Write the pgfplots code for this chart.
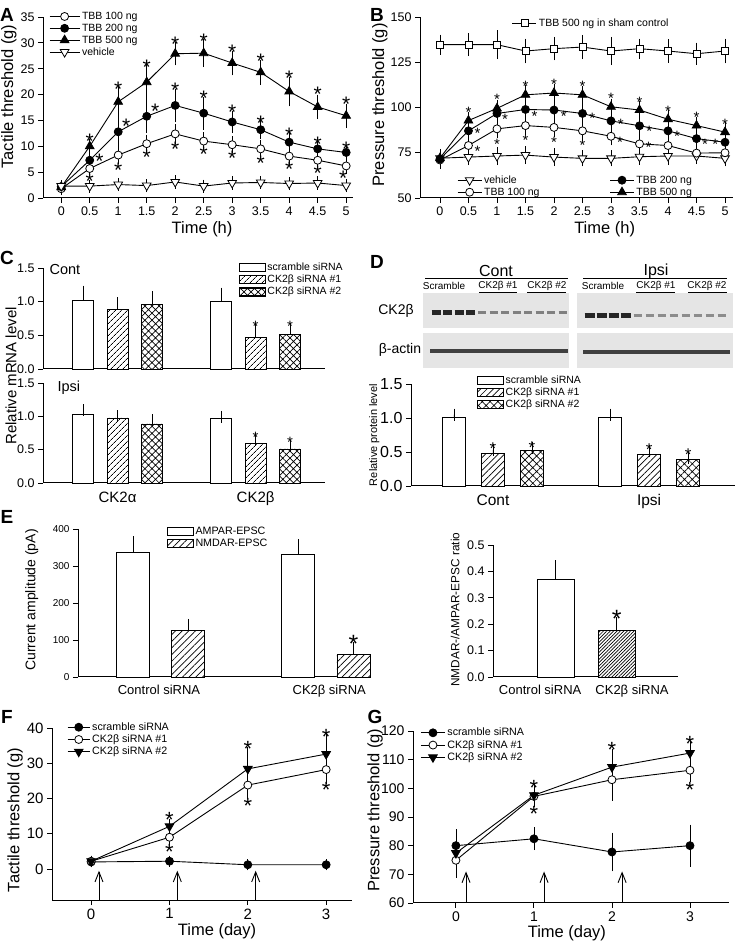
\documentclass[border=0pt]{standalone}
\usepackage{fontspec}
\setmainfont{Liberation Sans}
\usepackage{pgfplots}
\pgfplotsset{compat=1.18}
\usetikzlibrary{patterns.meta,arrows.meta}
\newcommand{\fs}[1]{\fontsize{#1}{#1}\selectfont}

\pgfplotsset{
  base/.style={scale only axis, anchor=south west, axis lines*=left,
    axis line style={-, line width=1pt}, tick align=outside, major tick length=5pt,
    tick style={black, line width=0.9pt}, clip=false,
    /pgf/number format/assume math mode=true, legend cell align=left,
    legend style={draw=none, fill=none, inner sep=1pt, row sep=-1pt}},
  dec/.style={yticklabel style={/pgf/number format/fixed, /pgf/number format/fixed zerofill, /pgf/number format/precision=1}},
  ln/.style={black, line width=0.9pt},
  oc/.style={ln, mark=*, mark size=#1, mark options={fill=white, solid, line width=0.8pt}}, oc/.default=4pt,
  fc/.style={ln, mark=*, mark size=#1, mark options={fill=black, solid, line width=0.8pt}}, fc/.default=4pt,
  ft/.style={ln, mark=triangle*, mark size=#1, mark options={fill=black, solid, line width=0.8pt}}, ft/.default=5pt,
  ot/.style={ln, mark=triangle*, mark size=#1, mark options={fill=white, rotate=180, solid, line width=0.8pt}}, ot/.default=5pt,
  dt/.style={ln, mark=triangle*, mark size=#1, mark options={fill=black, rotate=180, solid, line width=0.8pt}}, dt/.default=5pt,
  os/.style={ln, mark=square*, mark size=3.5pt, mark options={fill=white, solid, line width=0.8pt}},
  eb/.style={error bars/y dir=both, error bars/y explicit, error bars/error bar style={line width=0.8pt, black, solid},
    error bars/error mark options={line width=0.8pt, black, mark size=#1, solid}}, eb/.default=4.5pt,
  ebp/.style={error bars/y dir=plus, error bars/y explicit, error bars/error bar style={line width=0.8pt, black, solid},
    error bars/error mark options={line width=0.8pt, black, mark size=#1, solid}}, ebp/.default=6pt,
  star/.style={only marks, mark=text, text mark={*}, text mark as node=true,
    text mark style={font=\fs{#1}, yshift=-0.2*#1pt, inner sep=0pt}, forget plot},
  lgl/.style={legend image code/.code={\draw[mark repeat=2,mark phase=2,##1] plot coordinates {(0pt,0pt) (#1/2,0pt) (#1,0pt)};}},
  bar/.style={ybar, bar width=#1, bar shift=0pt, draw=black, line width=0.9pt, fill=white,
    legend image code/.code={\draw[##1, line width=0.7pt] (0pt,-4pt) rectangle (26pt,4pt);}},
  hl/.style={pattern={Lines[angle=45, distance=#1, line width=0.7pt]}, preaction={fill=white}},
  hx/.style={pattern={Hatch[angle=45, distance=#1, line width=0.7pt]}, preaction={fill=white}},
}

\begin{document}
\begin{tikzpicture}

% ---------- page-wide layer: letters, blot, free texts ----------
\begin{axis}[at={(0pt,0pt)}, anchor=south west, scale only axis, width=737pt, height=946pt,
  xmin=0, xmax=737, ymin=0, ymax=946, y dir=reverse, hide axis, clip=false]
\addplot[fill=black!10, draw=none] coordinates {(423,293)(569,293)(569,328)(423,328)};
\addplot[fill=black!10, draw=none] coordinates {(577,293)(733,293)(733,328)(577,328)};
\addplot[fill=black!10, draw=none] coordinates {(423,333)(569,333)(569,368)(423,368)};
\addplot[fill=black!10, draw=none] coordinates {(577,333)(733,333)(733,368)(577,368)};
\addplot[line width=5pt, black!85, unbounded coords=jump] coordinates {
  (431.5,312)(440.5,312) (0,nan) (443,312)(452,312) (0,nan) (454.5,312)(463.5,312) (0,nan) (466,312)(475,312)};
\addplot[line width=3pt, black!50, unbounded coords=jump] coordinates {
  (478,312)(486,312) (0,nan) (489.5,312)(497.5,312) (0,nan) (501,312)(509,312) (0,nan) (512.5,312)(520.5,312) (0,nan)
  (524,312)(532,312) (0,nan) (535.5,312)(543.5,312) (0,nan) (547,312)(555,312) (0,nan) (558.5,312)(566.5,312)};
\addplot[line width=5pt, black!85, unbounded coords=jump] coordinates {
  (584.5,315)(594.5,315) (0,nan) (596.5,315)(606.5,315) (0,nan) (608.5,315)(618.5,315) (0,nan) (620.5,315)(630.5,315)};
\addplot[line width=3pt, black!45, unbounded coords=jump] coordinates {
  (633.5,315)(641.5,315) (0,nan) (645.5,315)(653.5,315) (0,nan) (657.5,315)(665.5,315) (0,nan) (669.5,315)(677.5,315) (0,nan)
  (681.5,315)(689.5,315) (0,nan) (693.5,315)(701.5,315) (0,nan) (705.5,315)(713.5,315) (0,nan) (717.5,315)(725.5,315)};
\addplot[line width=4pt, black!75] coordinates {(430,351)(568,351)};
\addplot[line width=4pt, black!75] coordinates {(583,352)(730,352)};
\addplot[line width=0.8pt] coordinates {(425,278)(568,278)};
\addplot[line width=0.8pt] coordinates {(583,278)(727,278)};
\addplot[line width=0.6pt] coordinates {(479,292)(517,292)};
\addplot[line width=0.6pt] coordinates {(527,292)(566,292)};
\addplot[line width=0.6pt] coordinates {(636,292)(675,292)};
\addplot[line width=0.6pt] coordinates {(688,292)(727,292)};
\node[font=\fs{16}] at (axis cs:496,271) {Cont};
\node[font=\fs{16}] at (axis cs:656,271) {Ipsi};
\node[font=\fs{10}] at (axis cs:444,286) {Scramble};
\node[font=\fs{10}] at (axis cs:498,286) {CK2β \#1};
\node[font=\fs{10}] at (axis cs:547,286) {CK2β \#2};
\node[font=\fs{10}] at (axis cs:603,286) {Scramble};
\node[font=\fs{10}] at (axis cs:656,286) {CK2β \#1};
\node[font=\fs{10}] at (axis cs:707,286) {CK2β \#2};
\node[font=\fs{14}] at (axis cs:396,311) {CK2β};
\node[font=\fs{14}] at (axis cs:400,350) {β-actin};
\node[font=\fs{14.5}, anchor=west] at (axis cs:46,270) {Cont};
\node[font=\fs{14.5}, anchor=west] at (axis cs:54,388) {Ipsi};
\node[font=\fs{15}, rotate=90] at (axis cs:11,376) {Relative mRNA level};
\node[font=\bfseries\fs{19}] at (axis cs:7,15) {A};
\node[font=\bfseries\fs{19}] at (axis cs:377,15) {B};
\node[font=\bfseries\fs{19}] at (axis cs:7,258) {C};
\node[font=\bfseries\fs{19}] at (axis cs:377,262) {D};
\node[font=\bfseries\fs{19}] at (axis cs:7,517) {E};
\node[font=\bfseries\fs{19}] at (axis cs:7,717) {F};
\node[font=\bfseries\fs{19}] at (axis cs:375,717) {G};
\end{axis}

% ---------- A ----------
\begin{axis}[base, at={(43pt,748pt)}, width=310pt, height=181pt,
  xmin=-0.32, xmax=5.12, ymin=0, ymax=35,
  xtick={0,0.5,1,1.5,2,2.5,3,3.5,4,4.5,5}, ytick={0,5,10,15,20,25,30,35},
  ticklabel style={font=\fs{12.5}},
  xlabel={Time (h)}, ylabel={Tactile threshold (g)}, label style={font=\fs{16.5}},
  xlabel style={at={(axis description cs:0.513,-0.171)}, anchor=center},
  ylabel style={at={(axis description cs:-0.11,0.56)}, anchor=center},
  lgl=30pt, legend style={at={(0.016,1.045)}, anchor=north west, font=\fs{10.5}}]
\addplot[oc, eb] coordinates {(0,1.8)+-(0,0.4) (0.5,5.7)+-(0,0.9) (1,8.3)+-(0,0.9) (1.5,10.5)+-(0,0.9) (2,12.4)+-(0,1.0)
  (2.5,11.0)+-(0,0.8) (3,10.3)+-(0,0.8) (3.5,9.5)+-(0,0.8) (4,8.1)+-(0,0.8) (4.5,7.3)+-(0,0.8) (5,6.2)+-(0,0.6)};
\addlegendentry{TBB 100 ng}
\addplot[fc, eb] coordinates {(0,2.2)+-(0,0.3) (0.5,7.3)+-(0,0.8) (1,12.8)+-(0,2.4) (1.5,15.8)+-(0,2.4) (2,17.9)+-(0,2.4)
  (2.5,16.4)+-(0,2.3) (3,14.7)+-(0,1.3) (3.5,13.2)+-(0,1.0) (4,10.8)+-(0,1.0) (4.5,9.5)+-(0,0.7) (5,8.8)+-(0,0.6)};
\addlegendentry{TBB 200 ng}
\addplot[ft, eb] coordinates {(0,2.1)+-(0,0.3) (0.5,10.0)+-(0,0.6) (1,18.6)+-(0,2.2) (1.5,22.4)+-(0,2.6) (2,27.9)+-(0,1.4)
  (2.5,28.0)+-(0,1.8) (3,26.1)+-(0,1.5) (3.5,24.3)+-(0,1.6) (4,20.6)+-(0,2.0) (4.5,17.6)+-(0,1.5) (5,15.9)+-(0,1.5)};
\addlegendentry{TBB 500 ng}
\addplot[ot, eb] coordinates {(0,2.3)+-(0,0.3) (0.5,2.3)+-(0,0.4) (1,2.6)+-(0,0.4) (1.5,2.4)+-(0,0.4) (2,3.1)+-(0,0.4)
  (2.5,2.3)+-(0,0.4) (3,2.9)+-(0,0.4) (3.5,3.0)+-(0,0.4) (4,2.8)+-(0,0.4) (4.5,2.9)+-(0,0.4) (5,2.4)+-(0,0.4)};
\addlegendentry{vehicle}
\addplot[star=21] coordinates {(0.5,11.8) (1,21.8) (1.5,26.1) (2,30.5) (2.5,31.1) (3,28.9) (3.5,27.3) (4,23.9) (4.5,20.8) (5,18.9)
  (0.67,7.9) (1.14,14.7) (1.65,17.6) (2,21.6) (2.5,20.0) (3,17.3) (3.5,15.2) (4,13.0) (4.5,11.2) (5,10.2)
  (0.5,4.1) (1,6.2) (1.5,8.6) (2,10.2) (2.5,9.2) (3,8.4) (3.5,7.6) (4,6.3) (4.5,5.5) (4.95,4.6)};
\end{axis}

% ---------- B ----------
\begin{axis}[base, at={(420pt,748pt)}, width=313pt, height=181pt,
  xmin=-0.35, xmax=5.14, ymin=50, ymax=150,
  xtick={0,0.5,1,1.5,2,2.5,3,3.5,4,4.5,5}, ytick={50,75,100,125,150},
  ticklabel style={font=\fs{12.5}},
  xlabel={Time (h)}, ylabel={Pressure threshold (g)}, label style={font=\fs{16.5}},
  xlabel style={at={(axis description cs:0.59,-0.171)}, anchor=center},
  ylabel style={at={(axis description cs:-0.128,0.514)}, anchor=center},
  lgl=24pt, legend columns=2,
  legend style={at={(0.115,-0.01)}, anchor=south west, font=\fs{10.5},
    /tikz/every even column/.append style={column sep=68pt}}]
\addplot[os, eb, forget plot] coordinates {(0,134.7)+-(0,3.1) (0.5,134.7)+-(0,3.9) (1,134.7)+-(0,5.5) (1.5,131.2)+-(0,4.4)
  (2,132.5)+-(0,4) (2.5,133.4)+-(0,4.2) (3,131.2)+-(0,5.3) (3.5,132.5)+-(0,3.1) (4,131.2)+-(0,4) (4.5,129.7)+-(0,3.7) (5,131.2)+-(0,4.4)};
\addplot[ot, eb, forget plot] coordinates {(0,72)+-(0,2) (0.5,72.6)+-(0,2) (1,73.2)+-(0,2.5) (1.5,73.7)+-(0,2.5) (2,72.6)+-(0,2.5)
  (2.5,71.9)+-(0,2) (3,71.9)+-(0,2) (3.5,72.8)+-(0,2) (4,73.2)+-(0,2.5) (4.5,73.2)+-(0,2) (5,71.9)+-(0,2)};
\addplot[oc, eb, forget plot] coordinates {(0,71)+-(0,2.5) (0.5,79)+-(0,2) (1,88.2)+-(0,2.5) (1.5,90)+-(0,2.5) (2,89)+-(0,3)
  (2.5,87.1)+-(0,3) (3,84.1)+-(0,2.5) (3.5,79.9)+-(0,2.5) (4,79)+-(0,2) (4.5,74.8)+-(0,2.5) (5,75)+-(0,2)};
\addplot[fc, eb, forget plot] coordinates {(0,71.5)+-(0,2) (0.5,87.1)+-(0,2.5) (1,96.7)+-(0,2.5) (1.5,98.9)+-(0,3) (2,98.6)+-(0,2.5)
  (2.5,96.7)+-(0,2.5) (3,92.6)+-(0,2.5) (3.5,89.9)+-(0,2.5) (4,87.1)+-(0,2.5) (4.5,82.8)+-(0,3) (5,80.8)+-(0,3)};
\addplot[ft, eb, forget plot] coordinates {(0,72)+-(0,2.5) (0.5,92.8)+-(0,2) (1,99.5)+-(0,2) (1.5,107)+-(0,3) (2,108)+-(0,2.5)
  (2.5,107)+-(0,2.5) (3,100.4)+-(0,2) (3.5,98.6)+-(0,2.5) (4,93.5)+-(0,2.5) (4.5,90)+-(0,2.5) (5,86.4)+-(0,3)};
\addplot[star=15] coordinates {(0.5,99) (1,106) (1.5,113.5) (2,114.5) (2.5,113.5) (3,106.5) (3.5,104.5) (4,99.5) (4.5,96) (5,92.5)
  (0.66,87.5) (1.14,95) (1.66,97) (2.17,97) (2.67,95.5) (3.17,92.5) (3.67,88.5) (4.16,85.5) (4.65,81.5) (4.83,81.5)
  (0.66,77.5) (1,81.5) (1.5,83.5) (2,82.5) (2.5,80.5) (3.16,82.5) (3.66,79.5)};
\addlegendimage{ot}\addlegendentry{vehicle}
\addlegendimage{fc}\addlegendentry{TBB 200 ng}
\addlegendimage{oc}\addlegendentry{TBB 100 ng}
\addlegendimage{ft}\addlegendentry{TBB 500 ng}
\end{axis}
\begin{axis}[base, hide axis, at={(420pt,748pt)}, width=313pt, height=181pt,
  xmin=-0.35, xmax=5.14, ymin=50, ymax=150, lgl=24pt,
  legend style={at={(0.29,0.967)}, anchor=west, font=\fs{10.5}}]
\addlegendimage{os}\addlegendentry{TBB 500 ng in sham control}
\end{axis}

% ---------- C (Cont) ----------
\begin{axis}[base, dec, at={(43pt,577pt)}, width=282pt, height=101pt,
  xmin=-0.16, xmax=8.01, ymin=0, ymax=1.5, ytick={0,0.5,1,1.5}, xtick=\empty,
  ticklabel style={font=\fs{12.5}},
  legend style={at={(0.69,1.08)}, anchor=north west, font=\fs{10.5}}]
\addplot[bar=21pt, ebp] coordinates {(1,1.02)+-(0,0.13) (5,1.01)+-(0,0.11)};
\addlegendentry{scramble siRNA}
\addplot[bar=21pt, hl=4pt, ebp] coordinates {(2,0.88)+-(0,0.10) (6,0.465)+-(0,0.11)};
\addlegendentry{CK2β siRNA \#1}
\addplot[bar=21pt, hx=5pt, ebp] coordinates {(3,0.955)+-(0,0.11) (7,0.515)+-(0,0.085)};
\addlegendentry{CK2β siRNA \#2}
\addplot[star=15] coordinates {(6,0.68) (7,0.68)};
\end{axis}

% ---------- C (Ipsi) ----------
\begin{axis}[base, dec, at={(43pt,463pt)}, width=282pt, height=100pt,
  xmin=-0.16, xmax=8.01, ymin=0, ymax=1.5, ytick={0,0.5,1,1.5},
  xtick={2,6}, xticklabels={CK2α, CK2β}, major x tick style={draw=none},
  yticklabel style={font=\fs{12.5}}, xticklabel style={font=\fs{15}}]
\addplot[bar=21pt, ebp] coordinates {(1,1.025)+-(0,0.065) (5,0.965)+-(0,0.025)};
\addplot[bar=21pt, hl=4pt, ebp] coordinates {(2,0.975)+-(0,0.025) (6,0.59)+-(0,0.07)};
\addplot[bar=21pt, hx=5pt, ebp] coordinates {(3,0.885)+-(0,0.055) (7,0.51)+-(0,0.045)};
\addplot[star=15] coordinates {(6,0.73) (7,0.66)};
\end{axis}

% ---------- D ----------
\begin{axis}[base, dec, at={(411pt,460pt)}, width=324pt, height=102pt,
  xmin=-0.1, xmax=8.2, ymin=0, ymax=1.5, ytick={0,0.5,1,1.5},
  xtick={2,6}, xticklabels={Cont, Ipsi}, major x tick style={draw=none},
  yticklabel style={font=\fs{16}}, xticklabel style={font=\fs{15.5}},
  ylabel={Relative protein level}, ylabel style={font=\fs{11}, at={(axis description cs:-0.113,0.5)}, anchor=center},
  legend style={at={(0.2,1.11)}, anchor=north west, font=\fs{10.5}}]
\addplot[bar=23.5pt, ebp] coordinates {(1,1.008)+-(0,0.04) (5,1.008)+-(0,0.04)};
\addlegendentry{scramble siRNA}
\addplot[bar=23.5pt, hl=4.5pt, ebp] coordinates {(2,0.48)+-(0,0.05) (6,0.467)+-(0,0.05)};
\addlegendentry{CK2β siRNA \#1}
\addplot[bar=23.5pt, hx=5.5pt, ebp] coordinates {(3,0.52)+-(0,0.045) (7,0.394)+-(0,0.016)};
\addlegendentry{CK2β siRNA \#2}
\addplot[star=17] coordinates {(2,0.6) (3,0.62) (6,0.58) (7,0.51)};
\end{axis}

% ---------- E left ----------
\begin{axis}[base, at={(78pt,269pt)}, width=292pt, height=148pt,
  xmin=0, xmax=5.3, ymin=0, ymax=400, ytick={0,100,200,300,400},
  xtick={1.47,4.56}, xticklabels={Control siRNA, CK2β siRNA}, major x tick style={draw=none},
  yticklabel style={font=\fs{10}}, xticklabel style={font=\fs{13}},
  ylabel={Current amplitude (pA)}, ylabel style={font=\fs{14}, at={(axis description cs:-0.158,0.52)}, anchor=center},
  legend style={at={(0.30,1.035)}, anchor=north west, font=\fs{10.7}}]
\addplot[bar=33pt, ebp] coordinates {(1,337)+-(0,27) (4,331.6)+-(0,25)};
\addlegendentry{AMPAR-EPSC}
\addplot[bar=33pt, hl=4.7pt, ebp] coordinates {(2,125.5)+-(0,15.5) (5,61)+-(0,17)};
\addlegendentry{NMDAR-EPSC}
\addplot[star=25] coordinates {(5,102)};
\end{axis}

% ---------- E right ----------
\begin{axis}[base, dec, at={(493pt,269pt)}, width=185pt, height=132pt,
  xmin=-0.02, xmax=3.0, ymin=0, ymax=0.5, ytick={0,0.1,0.2,0.3,0.4,0.5},
  xtick={0.75,2.25}, xticklabels={Control siRNA, CK2β siRNA}, major x tick style={draw=none},
  yticklabel style={font=\fs{12.5}}, xticklabel style={font=\fs{13}},
  ylabel={NMDAR-/AMPAR-EPSC ratio}, ylabel style={font=\fs{11.8}, at={(axis description cs:-0.205,0.51)}, anchor=center}]
\addplot[bar=37pt, ebp] coordinates {(1,0.37)+-(0,0.05)};
\addplot[bar=37pt, hl=2.4pt, ebp] coordinates {(2,0.178)+-(0,0.025)};
\addplot[star=25] coordinates {(2,0.24)};
\end{axis}

% ---------- F ----------
\begin{axis}[base, at={(52pt,46pt)}, width=300pt, height=172pt,
  xmin=-0.5, xmax=3.33, ymin=-8.8, ymax=40, xtick={0,1,2,3}, ytick={0,10,20,30,40},
  ticklabel style={font=\fs{15}},
  xlabel={Time (day)}, ylabel={Tactile threshold (g)}, label style={font=\fs{16.5}},
  xlabel style={at={(axis description cs:0.55,-0.18)}, anchor=center},
  ylabel style={at={(axis description cs:-0.123,0.465)}, anchor=center},
  lgl=22pt, legend style={at={(0.047,1.05)}, anchor=north west, font=\fs{10.7}}]
\addplot[fc, eb] coordinates {(0,2.0)+-(0,0.3) (1,2.2)+-(0,0.3) (2,1.2)+-(0,0.3) (3,1.2)+-(0,0.3)};
\addlegendentry{scramble siRNA}
\addplot[oc, eb] coordinates {(0,2.2)+-(0,0.3) (1,9.0)+-(0,1.0) (2,23.8)+-(0,2.8) (3,28.2)+-(0,2.7)};
\addlegendentry{CK2β siRNA \#1}
\addplot[dt, eb] coordinates {(0,2.2)+-(0,0.3) (1,12.1)+-(0,0.8) (2,28.4)+-(0,5.0) (3,32.6)+-(0,4.4)};
\addlegendentry{CK2β siRNA \#2}
\addplot[star=22] coordinates {(1,15.1) (1,6.1) (2,35.3) (2,19.2) (3,38.8) (3,23.6)};
\addplot[line width=0.9pt, -{Straight Barb[length=10pt, width=8pt]}, forget plot] coordinates {(0.1,-8.8)(0.1,-0.5)};
\addplot[line width=0.9pt, -{Straight Barb[length=10pt, width=8pt]}, forget plot] coordinates {(1.1,-8.8)(1.1,-0.5)};
\addplot[line width=0.9pt, -{Straight Barb[length=10pt, width=8pt]}, forget plot] coordinates {(2.1,-8.8)(2.1,-0.5)};
\end{axis}

% ---------- G ----------
\begin{axis}[base, at={(413pt,43pt)}, width=316pt, height=172pt,
  xmin=-0.55, xmax=3.5, ymin=60, ymax=120, xtick={0,1,2,3}, ytick={60,70,80,90,100,110,120},
  ticklabel style={font=\fs{14}},
  xlabel={Time (day)}, ylabel={Pressure threshold (g)}, label style={font=\fs{16.5}},
  xlabel style={at={(axis description cs:0.487,-0.174)}, anchor=center},
  ylabel style={at={(axis description cs:-0.12,0.54)}, anchor=center},
  lgl=24pt, legend style={at={(0.02,1.035)}, anchor=north west, font=\fs{10.7}}]
\addplot[fc, eb] coordinates {(0,80)+-(0,4.1) (1,82.4)+-(0,2.4) (2,77.8)+-(0,5.2) (3,80)+-(0,5.8)};
\addlegendentry{scramble siRNA}
\addplot[oc, eb] coordinates {(0,74.9)+-(0,4.6) (1,97.2)+-(0,2.0) (2,103)+-(0,5.8) (3,106.3)+-(0,2.5)};
\addlegendentry{CK2β siRNA \#1}
\addplot[dt, eb] coordinates {(0,77.4)+-(0,3) (1,97.6)+-(0,2.5) (2,107.4)+-(0,4.9) (3,112.3)+-(0,2.7)};
\addlegendentry{CK2β siRNA \#2}
\addplot[star=22] coordinates {(1,101.6) (1,92.7) (2,115) (3,117) (3,101)};
\addplot[line width=0.9pt, -{Straight Barb[length=10pt, width=8pt]}, forget plot] coordinates {(0.13,60)(0.13,71)};
\addplot[line width=0.9pt, -{Straight Barb[length=10pt, width=8pt]}, forget plot] coordinates {(1.13,60)(1.13,71)};
\addplot[line width=0.9pt, -{Straight Barb[length=10pt, width=8pt]}, forget plot] coordinates {(2.13,60)(2.13,71)};
\end{axis}

\pgfresetboundingbox
\path[use as bounding box] (0,0) rectangle (737pt,946pt);
\end{tikzpicture}
\end{document}
